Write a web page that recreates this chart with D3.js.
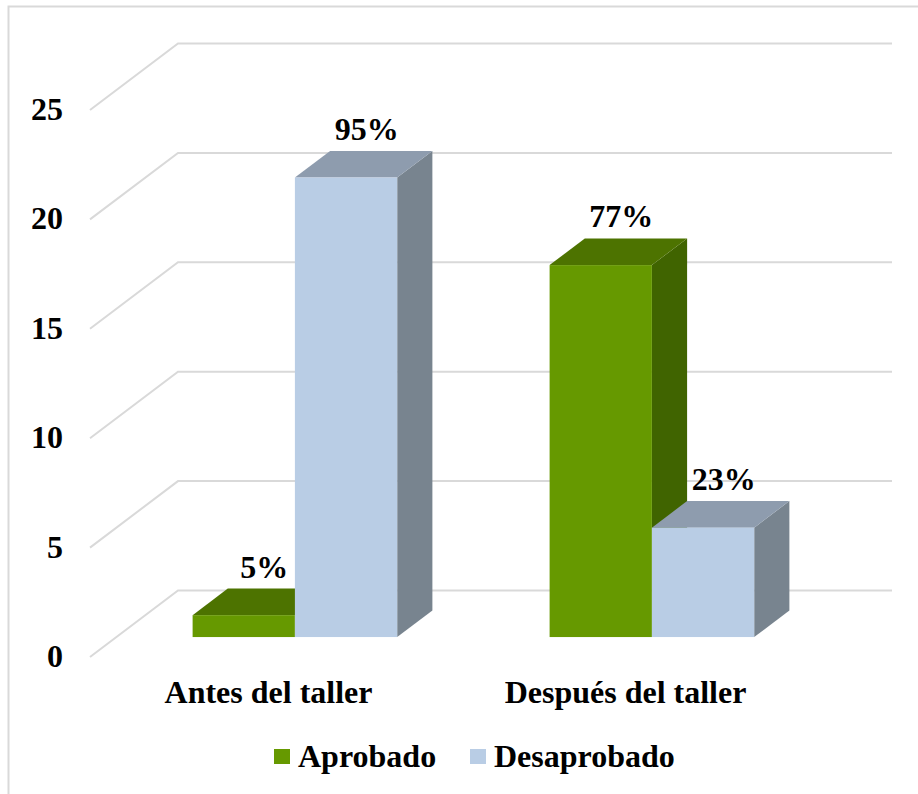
<!DOCTYPE html>
<html>
<head>
<meta charset="utf-8">
<script src="https://cdn.jsdelivr.net/npm/d3@7"></script>
<style>
  body { margin: 0; background: #fff; }
  svg text { font-family: "Liberation Serif", "Times New Roman", serif; font-weight: bold; fill: #000; }
</style>
</head>
<body>
<div id="chart"></div>
<script>
// ── data ─────────────────────────────────────────────
const categories = ["Antes del taller", "Después del taller"];
const series = ["Aprobado", "Desaprobado"];
const aprobado = [1, 17];
const desaprobado = [21, 5];
const pctLabels = [["5%", "95%"], ["77%", "23%"]];
const yTicks = [0, 5, 10, 15, 20, 25];

// ── layout ───────────────────────────────────────────
const width = 918, height = 794;
const frontLeft = 90, frontRight = 804;
const frontBase = 657, frontTop = 110;
const depthX = 88, depthY = 66.5;       // full depth of the 3D box
const barDepth0 = 0.3, barDepth1 = 0.7; // bars sit inside this depth range
const fontSize = 32;

const colors = {
    Aprobado: { front: "#669900", top: "#4d7300", side: "#406400" },
    Desaprobado: { front: "#b9cde5", top: "#8e9cae", side: "#78848f" }
};
const gridColor = "#d9d9d9";

const svg = d3.select("#chart")
    .append("svg")
    .attr("width", width)
    .attr("height", height);

// outer frame
svg.append("rect")
    .attr("x", 8.5).attr("y", 6.5)
    .attr("width", 920).attr("height", 800)
    .attr("fill", "none")
    .attr("stroke", gridColor)
    .attr("stroke-width", 2);

// scales
const yScale = d3.scaleLinear().domain([0, 25]).range([frontBase, frontTop]);
const xScale = d3.scaleBand().domain(categories).range([frontLeft, frontRight]);
const xSub = d3.scaleBand().domain(series).range([0, xScale.bandwidth()]).paddingOuter(0.745);

// projection: point on front plane shifted back by depth fraction f
const px = (x, f) => x + depthX * f;
const py = (y, f) => y - depthY * f;

// gridlines: diagonal on left wall + horizontal on back wall
const grid = svg.append("g");
yTicks.forEach(t => {
    const y = yScale(t);
    grid.append("polyline")
        .attr("points", `${frontLeft},${y} ${px(frontLeft, 1)},${py(y, 1)} ${px(frontRight, 1)},${py(y, 1)}`)
        .attr("fill", "none")
        .attr("stroke", gridColor)
        .attr("stroke-width", 2);
});

// y tick labels
svg.append("g").selectAll("text")
    .data(yTicks)
    .join("text")
    .attr("x", 63)
    .attr("y", d => yScale(d) + 10)
    .attr("text-anchor", "end")
    .attr("font-size", fontSize)
    .text(d => d);

// bars
const bars = [];
categories.forEach((c, i) => {
    bars.push({ cat: c, s: "Aprobado", v: aprobado[i], label: pctLabels[i][0] });
    bars.push({ cat: c, s: "Desaprobado", v: desaprobado[i], label: pctLabels[i][1] });
});

const barG = svg.append("g");
bars.forEach(d => {
    const x0 = xScale(d.cat) + xSub(d.s);
    const x1 = x0 + xSub.bandwidth();
    const yb = yScale(0), yt = yScale(d.v);
    const f0 = barDepth0, f1 = barDepth1;
    const c = colors[d.s];
    const g = barG.append("g");
    // side face
    g.append("polygon")
        .attr("points", [
            [px(x1, f0), py(yb, f0)], [px(x1, f1), py(yb, f1)],
            [px(x1, f1), py(yt, f1)], [px(x1, f0), py(yt, f0)]
        ].join(" "))
        .attr("fill", c.side);
    // top face
    g.append("polygon")
        .attr("points", [
            [px(x0, f0), py(yt, f0)], [px(x1, f0), py(yt, f0)],
            [px(x1, f1), py(yt, f1)], [px(x0, f1), py(yt, f1)]
        ].join(" "))
        .attr("fill", c.top);
    // front face
    g.append("rect")
        .attr("x", px(x0, f0))
        .attr("y", py(yt, f0))
        .attr("width", x1 - x0)
        .attr("height", yb - yt)
        .attr("fill", c.front);
    // value label
    g.append("text")
        .attr("x", px((x0 + x1) / 2, 0.5) + 3)
        .attr("y", py(yt, f1) - 11)
        .attr("text-anchor", "middle")
        .attr("font-size", fontSize)
        .text(d.label);
});

// category labels
svg.append("g").selectAll("text")
    .data(categories)
    .join("text")
    .attr("x", d => xScale(d) + xScale.bandwidth() / 2)
    .attr("y", 703)
    .attr("text-anchor", "middle")
    .attr("font-size", fontSize)
    .text(d => d);

// legend
const legendX = [274, 470];
const legend = svg.append("g").selectAll("g")
    .data(series)
    .join("g")
    .attr("transform", (d, i) => `translate(${legendX[i]},749)`);

legend.append("rect")
    .attr("width", 16)
    .attr("height", 15)
    .attr("fill", d => colors[d].front);

legend.append("text")
    .attr("x", 24)
    .attr("y", 18)
    .attr("font-size", fontSize)
    .text(d => d);
</script>
</body>
</html>
